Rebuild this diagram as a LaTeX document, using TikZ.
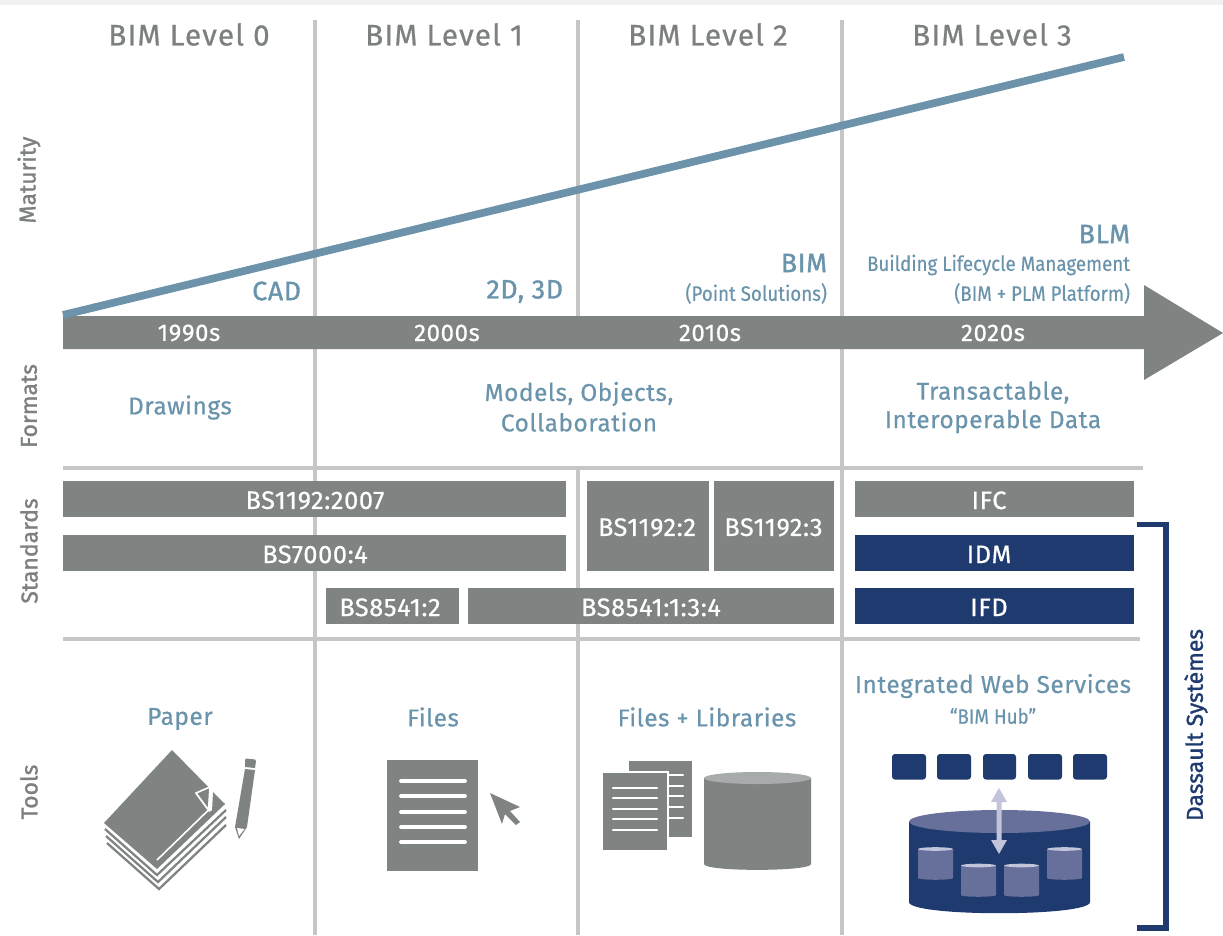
\documentclass[tikz,border=0pt]{standalone}
\usepackage{fontspec}
\setmainfont{Fira Sans}[FakeBold=0.6]
\newfontfamily\narrowfont{Fira Sans}[FakeStretch=0.9,FakeBold=0.4]
\newfontfamily\plainfont{Fira Sans}[FakeBold=0.6]
\newfontfamily\strongfont{Fira Sans}[FakeBold=1.3]
\definecolor{gbar}{HTML}{7F8382}
\definecolor{gtxt}{HTML}{7C8080}
\definecolor{btxt}{HTML}{6A93AC}
\definecolor{rule}{HTML}{C6C6C6}
\definecolor{matur}{HTML}{6C93A9}
\definecolor{navy}{HTML}{1F3A6E}
\definecolor{midnavy}{HTML}{676F9B}
\definecolor{pale}{HTML}{C2C4D9}
\definecolor{gtop}{HTML}{A7ABAB}
\definecolor{strip}{HTML}{F1F1F1}
\tikzset{
  x=0.75pt,y=-0.75pt,
  txt/.style={inner sep=0pt,outer sep=0pt,align=center},
  head/.style={txt,text=gtxt,font=\plainfont\fontsize{22.3}{26}\selectfont\addfontfeature{LetterSpace=4}},
  side/.style={txt,text=gtxt,rotate=90,font=\strongfont\fontsize{17.2}{20}\selectfont},
  big/.style={txt,text=btxt,font=\plainfont\fontsize{18.3}{22}\selectfont\addfontfeature{LetterSpace=2.2}},
  caps/.style={txt,text=btxt,font=\strongfont\fontsize{20}{24}\selectfont\addfontfeature{LetterSpace=2.5}},
  small/.style={txt,text=btxt,font=\narrowfont\fontsize{15.6}{18}\selectfont},
  era/.style={txt,text=white,font=\plainfont\fontsize{18}{21}\selectfont\addfontfeature{LetterSpace=2.5}},
  bartxt/.style={text=white,font=\plainfont\fontsize{19}{21}\selectfont\addfontfeature{LetterSpace=2.5}},
  gridline/.style={draw=rule,line width=2.6pt},
  icon/.style={fill=gbar,draw=none},
  wline/.style={draw=white,line width=2.8pt,line cap=round},
  sheetline/.style={draw=gbar,line width=1.7pt,line join=miter},
}
% name, x0, y0, x1, y1, colour, text, text centre x
\newcommand{\barbox}[8]{%
  \fill[#6] (#2,#3) rectangle (#4,#5);
  \node[bartxt,txt,yshift=-1pt] (#1) at (#8,{(#3+#5)/2}) {#7};
}
\newcommand{\cyl}[7]{% x0,x1,ytop,ybot,ry,body,top
  \fill[#6] (#1,#3) -- (#1,#4) .. controls (#1,{#4+#5*1.3}) and (#2,{#4+#5*1.3}) .. (#2,#4) -- (#2,#3) -- cycle;
  \path[fill=#7] ({(#1+#2)/2},#3) ellipse [x radius={(#2-#1)/2},y radius=#5];
}
\begin{document}
\begin{tikzpicture}
\useasboundingbox (0,0) rectangle (1223,935);
\fill[strip] (0,0) rectangle (1223,4.5);

% grid
\coordinate (v1t) at (315,20); \coordinate (v1b) at (315,935);
\coordinate (v2t) at (578,20); \coordinate (v2m) at (578,320);
\coordinate (v2n) at (578,468); \coordinate (v2b) at (578,935);
\coordinate (v3t) at (842,20); \coordinate (v3b) at (842,935);
\coordinate (h1l) at (63,468); \coordinate (h1r) at (1143,468);
\coordinate (h2l) at (63,639); \coordinate (h2r) at (1140,639);
\draw[gridline] (v1t) -- (v1b);
\draw[gridline] (v2t) -- (v2m);
\draw[gridline] (v2n) -- (v2b);
\draw[gridline] (v3t) -- (v3b);
\draw[gridline] (h1l) -- (h1r);
\draw[gridline] (h2l) -- (h2r);

% main arrow
\fill[gbar] (63,316) -- (1144,316) -- (1144,285) -- (1223,333) -- (1144,380) -- (1144,349) -- (63,349) -- cycle;
% maturity line
\coordinate (m0) at (63,315); \coordinate (m1) at (1124,57);
\draw[matur,line width=5.8pt] (m0) -- (m1);

% headings
\node[head] (l0) at (189,34.5) {BIM Level 0};
\node[head] (l1) at (444,34.5) {BIM Level 1};
\node[head] (l2) at (708,34.5) {BIM Level 2};
\node[head] (l3) at (992,34.5) {BIM Level 3};
\node[side] (s1) at (29,180) {Maturity};
\node[side] (s2) at (29,406) {Formats};
\node[side] (s3) at (29,551) {Standards};
\node[side] (s4) at (29,792) {Tools};
\node[side,text=navy] (s5) at (1196,725) {Dassault Systèmes};

% labels over the arrow
\node[caps,anchor=east] (cad) at (301,291) {CAD};
\node[caps,anchor=east] (d23) at (563,291.5) {2D, 3D};
\node[caps,anchor=east] (bim) at (827,263) {BIM};
\node[small,anchor=east] (ps) at (827,293.5) {(Point Solutions)};
\node[caps,anchor=east] (blm) at (1130,234) {BLM};
\node[small,anchor=east] (blc) at (1130,265) {Building Lifecycle Management};
\node[small,anchor=east] (bp) at (1130,293.5) {(BIM + PLM Platform)};
\node[era] (e1) at (189,333) {1990s};
\node[era] (e2) at (447,333) {2000s};
\node[era] (e3) at (710,333) {2010s};
\node[era] (e4) at (993,333) {2020s};

% formats
\node[big] (f1) at (180,407.5) {Drawings};
\node[big] (f2a) at (579,394) {Models, Objects,};
\node[big] (f2b) at (579,422) {Collaboration};
\node[big] (f3a) at (993,392.5) {Transactable,};
\node[big] (f3b) at (993,421.5) {Interoperable Data};

% standards
\barbox{b1}{63}{481}{566}{517}{gbar}{BS1192:2007}{315}
\barbox{b2}{63}{535}{566}{571}{gbar}{BS7000:4}{315}
\barbox{b3}{326}{588}{459}{624}{gbar}{BS8541:2}{390}
\barbox{b4}{468}{588}{834}{624}{gbar}{BS8541:1:3:4}{651}
\barbox{b5}{587}{481}{709}{571}{gbar}{BS1192:2}{647}
\barbox{b6}{714}{481}{834}{571}{gbar}{BS1192:3}{773.5}
\barbox{b7}{855}{481}{1134}{517}{gbar}{IFC}{989}
\barbox{b8}{855}{535}{1134}{571}{navy}{IDM}{989}
\barbox{b9}{855}{588}{1134}{624}{navy}{IFD}{989}

% bracket
\coordinate (br0) at (1137,524.5); \coordinate (br1) at (1166,524.5);
\coordinate (br2) at (1166,928); \coordinate (br3) at (1137,928);
\draw[navy,line width=3.8pt] (br0) -- (br1) -- (br2) -- (br3);

% tools
\node[big] (t1) at (180,719) {Paper};
\node[big] (t2) at (433,717) {Files};
\node[big] (t3) at (707,717) {Files + Libraries};
\node[big] (t4) at (993,686) {Integrated Web Services};
\node[small] (t5) at (993,716) {“BIM Hub”};

% paper icon
\draw[sheetline] (105,829) -- (157,875) -- (226,810);
\draw[sheetline] (106,836) -- (158,882) -- (226,817);
\draw[sheetline] (107,843) -- (159,889) -- (226,825);
\fill[icon] (172,750) -- (225,804) -- (157,869) -- (104,823) -- cycle;
\fill[white] (195,793) -- (211,786) -- (228,800) -- (209,812) -- cycle;
\fill[icon] (225,804) -- (213,792) -- (212,812) -- cycle;
\draw[white,line width=1.2pt,fill=gbar,line join=round] (196,793) -- (210,787) -- (208.5,810) -- cycle;
\draw[white,line width=1.2pt] (208.5,810) -- (157,860);
% pencil
\fill[icon] (246,758.5) -- (255,759.5) -- (256,761) -- (255,768) -- (245,767) -- (245,760) -- cycle;
\fill[icon] (245,769) -- (255,770) -- (247,827) -- (239,839) -- (235,827) -- cycle;
\fill[white] (237,828) -- (244.5,829) -- (239,836) -- cycle;

% file icon
\fill[icon] (387,760) rectangle (478,871);
\foreach \yy in {781,796,812,827,842} \draw[wline] (401,\yy) -- (465,\yy);
\fill[icon] (490,793) -- (520,807) -- (510,811) -- (520,822) -- (516,825) -- (505,814) -- (502,824) -- cycle;

% files + libraries
\fill[icon] (629,761) rectangle (692,837);
\foreach \yy in {775,786,796,807,818} \draw[draw=white,line width=1.8pt,line cap=round] (665,\yy) -- (683,\yy);
\fill[white] (601,771) rectangle (669,852);
\fill[icon] (603,773) rectangle (667,850);
\foreach \yy in {788,798,809,819,830} \draw[draw=white,line width=1.8pt,line cap=round] (613,\yy) -- (657,\yy);
\cyl{704}{811}{778}{864}{6}{gbar}{gtop}

% web services
\foreach \xa/\xb in {892/926,937/971,983/1016,1028/1062,1073/1107}
  \fill[navy,rounded corners=2.2pt] (\xa,754) rectangle (\xb,779.5);
\cyl{909}{1090}{821.5}{902}{11.5}{navy}{midnavy}
\cyl{918}{953}{849}{878}{1.8}{midnavy}{pale}
\cyl{961}{996}{865.5}{895}{1.8}{midnavy}{pale}
\cyl{1004}{1039}{865.5}{895}{1.8}{midnavy}{pale}
\cyl{1047}{1082}{849}{878}{1.8}{midnavy}{pale}
\fill[pale] (999,788) -- (1007,802) -- (1001.5,802) -- (1001.5,840) -- (1007,840) -- (999,854) -- (991,840) -- (996.5,840) -- (996.5,802) -- (991,802) -- cycle;
\end{tikzpicture}
\end{document}
